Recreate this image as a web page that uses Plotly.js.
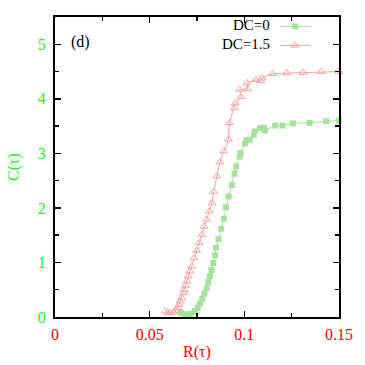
<!DOCTYPE html>
<html><head><meta charset="utf-8">
<script src="https://cdn.plot.ly/plotly-3.0.1.min.js"></script>
<style>html,body{margin:0;padding:0;background:#fff}#g{width:365px;height:365px}</style>
</head><body><div id="g"></div>
<script>
const dc0_x = [0.0666,0.0687,0.0704,0.0722,0.0739,0.0754,0.0766,0.0778,0.0789,0.0801,0.0810,0.0818,0.0827,0.0836,0.0845,0.0850,0.0864,0.0878,0.0892,0.0903,0.0917,0.0934,0.0948,0.0957,0.0976,0.0980,0.1004,0.1012,0.1029,0.1050,0.1055,0.1082,0.1103,0.1109,0.1162,0.1201,0.1257,0.1345,0.1432,0.1499];
const dc0_y = [0.077,0.046,0.046,0.064,0.11,0.17,0.25,0.33,0.43,0.53,0.64,0.75,0.86,0.99,1.13,1.27,1.43,1.62,1.80,2.01,2.21,2.42,2.63,2.76,2.94,3.01,3.18,3.24,3.25,3.34,3.40,3.46,3.47,3.42,3.51,3.51,3.55,3.56,3.59,3.60];
const dc15_x = [0.0582,0.0596,0.0608,0.0625,0.0638,0.0648,0.0655,0.0661,0.0669,0.0678,0.0683,0.0690,0.0697,0.0704,0.0713,0.0722,0.0734,0.0748,0.0762,0.0775,0.0787,0.0801,0.0815,0.0829,0.0838,0.0855,0.0871,0.0892,0.0917,0.0920,0.0946,0.0952,0.0983,0.0975,0.1018,0.1013,0.1061,0.1087,0.1093,0.1148,0.1225,0.1310,0.1406,0.1499];
const dc15_y = [0.107,0.076,0.076,0.088,0.119,0.168,0.229,0.29,0.35,0.44,0.50,0.58,0.66,0.75,0.84,0.93,1.08,1.22,1.36,1.51,1.66,1.79,1.94,2.09,2.30,2.58,2.84,3.04,3.26,3.56,3.83,3.92,4.04,4.17,4.18,4.29,4.35,4.33,4.38,4.46,4.47,4.48,4.50,4.50];
const names = ['DC=0','DC=1.5'];
const xTicks = [0,0.05,0.1,0.15], xTickText = ['0','0.05','0.1','0.15'];
const yTicks = [0,1,2,3,4,5];

const green = '#a3e39a', pink = '#f5a3a3';
const font = 'Liberation Serif, Times New Roman, serif';
const FS = 16;
const traces = [
 {x: dc0_x, y: dc0_y, mode:'lines+markers', name:'', line:{color:green,width:1},
  marker:{symbol:'square', size:6, color:green}, cliponaxis:false},
 {x: dc15_x, y: dc15_y, mode:'lines+markers', name:'', line:{color:pink,width:1},
  marker:{symbol:'triangle-up-open', size:7, color:pink, line:{width:1,color:pink}}, cliponaxis:false}
];
const ax = {
  showgrid:false, zeroline:false, showline:true, linecolor:'#000', linewidth:2,
  mirror:'allticks', ticks:'inside', ticklen:6, tickwidth:1.5, tickcolor:'#000',
  minor:{ticks:'inside', ticklen:4, tickwidth:1.5, tickcolor:'#000'}
};
const layout = {
  width:365, height:365, margin:{l:54.5,r:25.5,t:16.5,b:47.5},
  paper_bgcolor:'#fff', plot_bgcolor:'#fff',
  font:{family:font, size:FS, color:'#000'},
  xaxis: Object.assign({}, ax, {range:[0,0.15], tickvals:xTicks, ticktext:xTickText,
    minor:Object.assign({}, ax.minor, {dtick:0.025, tick0:0}),
    tickfont:{family:font,size:FS,color:'#ff0000'}, ticklabelstandoff:2,
    title:{text:'R(τ)', font:{family:font,size:FS,color:'#ff0000'}, standoff:4}}),
  yaxis: Object.assign({}, ax, {range:[0,5.5], tickvals:yTicks,
    minor:Object.assign({}, ax.minor, {dtick:0.5, tick0:0}),
    tickfont:{family:font,size:FS,color:'#22ee22'}, ticklabelstandoff:4,
    title:{text:'C(τ)', font:{family:font,size:FS,color:'#22ee22'}, standoff:14}}),
  showlegend:true,
  legend:{x:0.775, y:1.017, xanchor:'left', yanchor:'top', bgcolor:'rgba(0,0,0,0)',
    font:{family:font,size:10}, tracegroupgap:0, itemwidth:30},
  annotations:[
    {xref:'paper', yref:'paper', x:0.765, y:0.972, xanchor:'right', yanchor:'middle', text:names[0], showarrow:false, font:{family:font,size:15,color:'#000'}},
    {xref:'paper', yref:'paper', x:0.765, y:0.909, xanchor:'right', yanchor:'middle', text:names[1], showarrow:false, font:{family:font,size:15,color:'#000'}},
    {xref:'paper', yref:'paper', x:0.05, y:0.915, xanchor:'left', yanchor:'middle', text:'(d)', showarrow:false, font:{family:font,size:FS,color:'#000'}}
  ]
};
Plotly.newPlot('g', traces, layout, {staticPlot:true, displayModeBar:false});
</script></body></html>
